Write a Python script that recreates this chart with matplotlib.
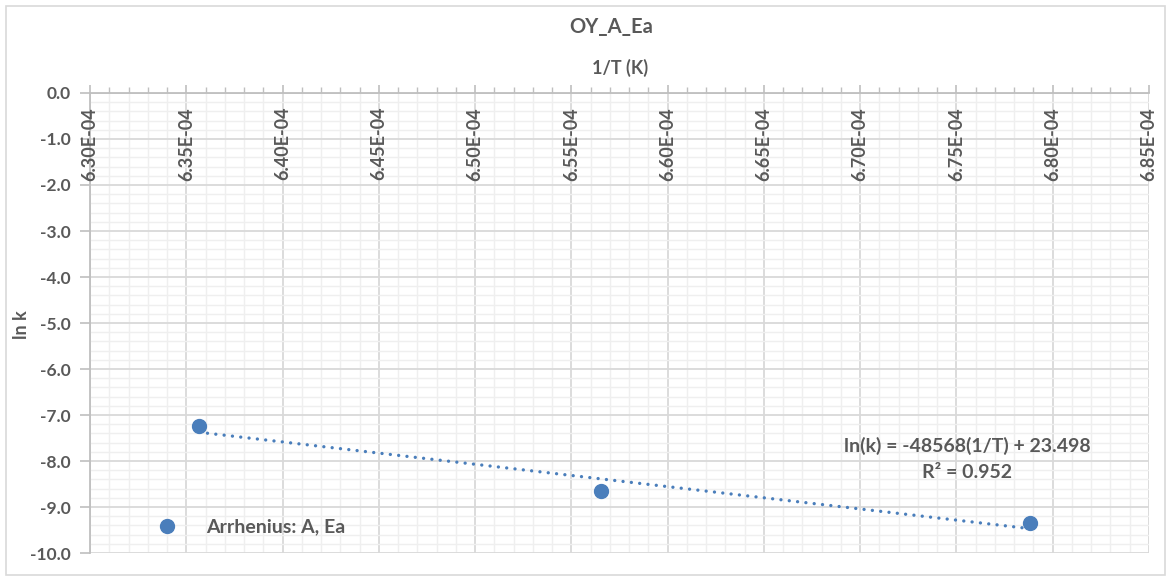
import matplotlib
matplotlib.use("Agg")
import matplotlib.pyplot as plt
import numpy as np
from matplotlib.ticker import MultipleLocator
from matplotlib.patches import Rectangle

# Arrhenius data: reciprocal temperature (1/K) and natural log of rate constant
inv_T = [6.3567e-4, 6.5653e-4, 6.7882e-4]
ln_k = [-7.24, -8.66, -9.34]

# Fitted trendline coefficients (as shown in the equation label)
slope = -48568.0
intercept = 23.498
r_squared = 0.952

title = "OY_A_Ea"
x_title = "1/T (K)"
y_title = "ln k"
series_name = "Arrhenius: A, Ea"

x_ticks = [6.30e-4 + 0.05e-4 * i for i in range(12)]
y_ticks = [0.0, -1.0, -2.0, -3.0, -4.0, -5.0, -6.0, -7.0, -8.0, -9.0, -10.0]

blue = "#4A7EBB"
text_grey = "#595959"
font = "Lato"

W, H = 1171, 580
fig = plt.figure(figsize=(W / 100, H / 100), dpi=100)
fig.patches.append(Rectangle((0.005, 0.008), 0.99, 0.982, transform=fig.transFigure,
                             fill=False, edgecolor="#D9D9D9", linewidth=1.2))

ax = fig.add_axes([90 / W, 1 - 553 / H, (1149 - 90) / W, (553 - 93) / H])
ax.set_xlim(x_ticks[0], x_ticks[-1])
ax.set_ylim(-10, 0)

# grid
ax.xaxis.set_major_locator(MultipleLocator(0.05e-4))
ax.xaxis.set_minor_locator(MultipleLocator(0.01e-4))
ax.yaxis.set_major_locator(MultipleLocator(1.0))
ax.yaxis.set_minor_locator(MultipleLocator(0.2))
ax.grid(which="major", color="#D9D9D9", linewidth=1.3, zorder=0)
ax.grid(which="minor", color="#EFEFEF", linewidth=1.0, zorder=0)
ax.set_axisbelow(True)

for s in ("right", "bottom"):
    ax.spines[s].set_visible(False)
for s in ("left", "top"):
    ax.spines[s].set_color("#BFBFBF")
    ax.spines[s].set_linewidth(1.3)

ax.xaxis.set_ticks_position("top")
ax.tick_params(axis="x", which="major", direction="out", length=6, color="#BFBFBF",
               width=1.2, labeltop=False, labelbottom=False)
ax.tick_params(axis="x", which="minor", direction="out", length=4, color="#BFBFBF", width=1.0)
ax.tick_params(axis="y", which="major", direction="out", length=7, color="#BFBFBF",
               width=1.2, labelsize=12.5, labelcolor=text_grey, pad=7)
ax.tick_params(axis="y", which="minor", length=0)
ax.set_yticks(y_ticks)
ax.set_yticklabels([f"{v:.1f}" for v in y_ticks], fontfamily=font, fontweight="bold")

# x tick labels sit just below the axis at the top
for xv in x_ticks:
    ax.annotate(f"{xv:.2E}", xy=(xv, 0), xycoords="data",
                xytext=(0, -10), textcoords="offset points", rotation=90,
                ha="center", va="top", fontsize=13, fontfamily=font,
                fontweight="bold", color=text_grey, annotation_clip=False)

# data points
ax.plot(inv_T, ln_k, linestyle="none", marker="o", markersize=10, color=blue,
        label=series_name, zorder=4)

# linear trendline over the data range
xs = np.array([min(inv_T), max(inv_T)])
ax.plot(xs, slope * xs + intercept, linestyle=(0, (0.01, 2.5)), linewidth=2.4,
        color=blue, dash_capstyle="round", zorder=3)

fig.text(967 / W, 1 - 446 / H, f"ln(k) = {slope:.0f}(1/T) + {intercept:.3f}",
         ha="center", va="center", fontsize=14, fontfamily=font, fontweight="bold",
         color=text_grey)
fig.text(967 / W, 1 - 472 / H, f"R² = {r_squared:.3f}", ha="center", va="center",
         fontsize=14, fontfamily=font, fontweight="bold", color=text_grey)

leg = ax.legend(loc="center left", bbox_to_anchor=((148 - 90) / 1059, (553 - 527) / 460),
                frameon=False, handletextpad=1.0, borderpad=0, borderaxespad=0,
                prop={"family": font, "weight": "bold", "size": 14})
for t in leg.get_texts():
    t.set_color(text_grey)

fig.text(611 / W, 1 - 27 / H, title, ha="center", va="center", fontsize=14.5,
         fontfamily=font, fontweight="bold", color=text_grey)
fig.text(620 / W, 1 - 68 / H, x_title, ha="center", va="center", fontsize=13,
         fontfamily=font, fontweight="bold", color=text_grey)
fig.text(22 / W, 1 - 325 / H, y_title, ha="center", va="center", rotation=90,
         fontsize=13, fontfamily=font, fontweight="bold", color=text_grey)

fig.savefig("out.png", dpi=100)
